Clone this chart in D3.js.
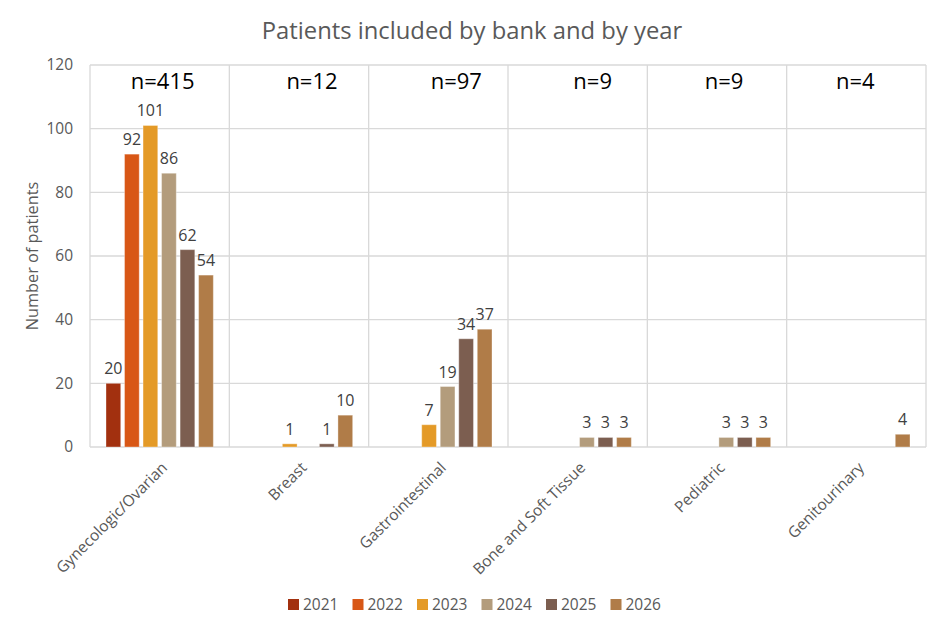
<!DOCTYPE html>
<html>
<head>
<meta charset="utf-8">
<script src="https://cdn.jsdelivr.net/npm/d3@7"></script>
<style>
  body { margin: 0; background: #fff; }
  text { font-family: "Open Sans", "Liberation Sans", sans-serif; }
</style>
</head>
<body>
<svg id="chart" width="943" height="628"></svg>
<script>
// chart data
const banks = ['Gynecologic/Ovarian', 'Breast', 'Gastrointestinal', 'Bone and Soft Tissue', 'Pediatric', 'Genitourinary']
const years = ['2021', '2022', '2023', '2024', '2025', '2026']
const totals = ['n=415', 'n=12', 'n=97', 'n=9', 'n=9', 'n=4']
const v2021 = [20, 0, 0, 0, 0, 0]
const v2022 = [92, 0, 0, 0, 0, 0]
const v2023 = [101, 1, 7, 0, 0, 0]
const v2024 = [86, 0, 19, 3, 3, 0]
const v2025 = [62, 1, 34, 3, 3, 0]
const v2026 = [54, 10, 37, 3, 3, 4]
const yTicks = [0, 20, 40, 60, 80, 100, 120]

const series = [v2021, v2022, v2023, v2024, v2025, v2026]
const colors = ['#A2300F', '#D85716', '#E49A27', '#B39C7C', '#7C5E50', '#B07C48']

const svg = d3.select('#chart')
const m = {left: 90, right: 17, top: 65, bottom: 181}
const W = 943, H = 628
const iw = W - m.left - m.right, ih = H - m.top - m.bottom

const x = d3.scaleBand().domain(banks).range([m.left, m.left + iw])
const xi = d3.scaleBand().domain(years)
  .range([16, x.bandwidth() - 16]).paddingInner(0.205)
const y = d3.scaleLinear().domain([0, 120]).range([m.top + ih, m.top])

// gridlines
svg.append('g')
  .selectAll('line')
  .data(yTicks)
  .enter()
  .append('line')
  .attr('x1', m.left).attr('x2', m.left + iw)
  .attr('y1', d => y(d)).attr('y2', d => y(d))
  .attr('stroke', '#d9d9d9').attr('stroke-width', 1.3)

svg.append('g')
  .selectAll('line')
  .data(banks.concat(['end']))
  .enter()
  .append('line')
  .attr('x1', (d, i) => m.left + i * x.bandwidth())
  .attr('x2', (d, i) => m.left + i * x.bandwidth())
  .attr('y1', m.top).attr('y2', m.top + ih)
  .attr('stroke', '#d9d9d9').attr('stroke-width', 1.3)

// y axis labels
const yAxis = svg.append('g')
  .attr('transform', `translate(${m.left - 14},0)`)
  .call(d3.axisLeft(y).tickValues(yTicks).tickSize(0))
yAxis.select('.domain').remove()
yAxis.selectAll('text')
  .attr('font-size', 15.5).attr('fill', '#595959')
  .attr('font-family', '"Open Sans", sans-serif')

// x axis labels
svg.append('g')
  .selectAll('text')
  .data(banks)
  .enter()
  .append('text')
  .attr('transform', d => `translate(${x(d) + x.bandwidth() / 2 + 1},${m.top + ih + 14}) rotate(-45)`)
  .attr('text-anchor', 'end')
  .attr('dy', '0.7em')
  .attr('font-size', 15.5)
  .attr('fill', '#595959')
  .text(d => d)

// bars
const groups = svg.append('g')
  .selectAll('g')
  .data(series)
  .enter()
  .append('g')
  .attr('fill', (d, i) => colors[i])

groups.selectAll('rect')
  .data((d, i) => d.map((v, j) => ({bank: banks[j], year: years[i], v: v})))
  .enter()
  .append('rect')
  .attr('x', d => x(d.bank) + xi(d.year))
  .attr('width', xi.bandwidth())
  .attr('y', d => y(d.v))
  .attr('height', d => y(0) - y(d.v))
  .attr('stroke', 'rgba(255,255,255,0.35)')
  .attr('stroke-width', 1)

// value labels (zeros are not shown)
groups.selectAll('text')
  .data((d, i) => d.map((v, j) => ({bank: banks[j], year: years[i], v: v})).filter(d => d.v > 0))
  .enter()
  .append('text')
  .attr('x', d => x(d.bank) + xi(d.year) + xi.bandwidth() / 2)
  .attr('y', d => y(d.v) - 9)
  .attr('text-anchor', 'middle')
  .attr('font-size', 16)
  .attr('fill', '#404040')
  .text(d => d.v)

// n= totals
const nShift = [3, 13, 18, 15, 7, -1]
svg.append('g')
  .selectAll('text')
  .data(totals)
  .enter()
  .append('text')
  .attr('x', (d, i) => x(banks[i]) + x.bandwidth() / 2 + nShift[i])
  .attr('y', 89)
  .attr('text-anchor', 'middle')
  .attr('font-size', 22)
  .attr('fill', '#000')
  .attr('font-family', '"Liberation Sans Narrow", "DejaVu Sans Condensed", "Liberation Sans", sans-serif')
  .text(d => d)

// title
svg.append('text')
  .attr('x', 472).attr('y', 39)
  .attr('text-anchor', 'middle')
  .attr('font-size', 23.8)
  .attr('fill', '#595959')
  .text('Patients included by bank and by year')

// y title
svg.append('text')
  .attr('transform', `translate(38,${m.top + ih / 2}) rotate(-90)`)
  .attr('text-anchor', 'middle')
  .attr('font-size', 16.3)
  .attr('fill', '#595959')
  .text('Number of patients')

// legend
const legend = svg.append('g')
  .selectAll('g')
  .data(years)
  .enter()
  .append('g')
  .attr('transform', (d, i) => `translate(${288 + i * 64.5},599)`)
legend.append('rect')
  .attr('width', 11).attr('height', 11)
  .attr('fill', (d, i) => colors[i])
legend.append('text')
  .attr('x', 15).attr('y', 11)
  .attr('font-size', 15.5)
  .attr('fill', '#595959')
  .text(d => d)
</script>
</body>
</html>
